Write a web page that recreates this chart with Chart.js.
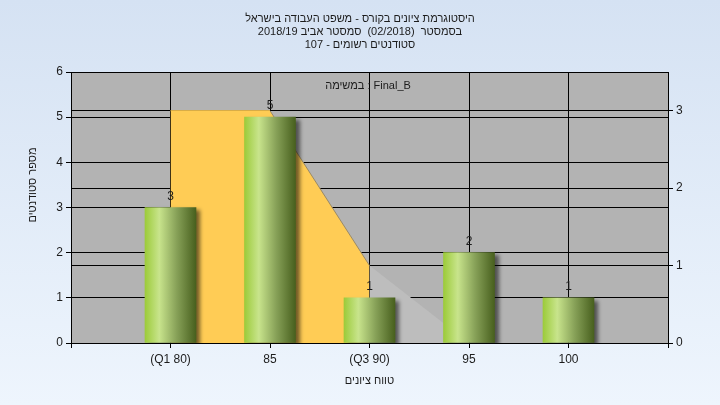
<!DOCTYPE html>
<html>
<head>
<meta charset="utf-8">
<script src="https://cdn.jsdelivr.net/npm/chart.js@4/dist/chart.umd.min.js"></script>
<style>
  html, body { margin: 0; padding: 0; }
  body { width: 720px; height: 405px; background: linear-gradient(#d5e2f3, #eef5fd); }
  canvas { display: block; }
</style>
</head>
<body>
<canvas id="histChart" width="720" height="405"></canvas>
<script>
// data
const grades = [80, 85, 90, 95, 100];
const gradeLabels = ['(Q1 80)', '85', '(Q3 90)', '95', '100'];
const students = [3, 5, 1, 2, 1];
const iqrGrades = [80, 85, 90];
const iqrValues = [3, 3, 1];
const tailGrades = [90, 95];
const tailValues = [1, 0];

const titleLines = [
  'היסטוגרמת ציונים בקורס - משפט העבודה בישראל',
  'בסמסטר  (02/2018)  סמסטר אביב 2018/19',
  'סטודנטים רשומים - 107'
];
const taskText = 'במשימה : Final_B';
const xTitle = 'טווח ציונים';
const yTitle = 'מספר סטודנטים';

const FONT = '11px "Liberation Sans", Arial, sans-serif';
const ctx = document.getElementById('histChart').getContext('2d');

function shade(c, x, w) {
  const g = c.createLinearGradient(x - w / 2, 0, x + w / 2, 0);
  g.addColorStop(0, '#9ccb3a');
  g.addColorStop(0.28, '#c8e48c');
  g.addColorStop(0.62, '#87a158');
  g.addColorStop(1, '#48601e');
  return g;
}

// fills grey plot area, draws titles, labels above the bars
const decorPlugin = {
  id: 'decor',
  beforeDraw(chart) {
    const a = chart.chartArea;
    const c = chart.ctx;
    c.save();
    c.fillStyle = '#b3b3b3';
    c.fillRect(a.left, a.top, a.right - a.left, a.bottom - a.top);
    c.restore();
  },
  beforeDatasetDraw(chart, args) {
    if (chart.data.datasets[args.index].type === 'bar') {
      const c = chart.ctx;
      // each bar gets its own gradient (options are per element, see scriptable colour)
      args.meta.data.forEach((bar) => {
        bar.options.backgroundColor = shade(c, bar.x, bar.width);
      });
      c.save();
      c.shadowColor = 'rgba(0,0,0,0.55)';
      c.shadowOffsetX = 4;
      c.shadowOffsetY = 3;
      c.shadowBlur = 4;
    }
  },
  afterDatasetDraw(chart, args) {
    if (chart.data.datasets[args.index].type === 'bar') {
      chart.ctx.restore();
    }
  },
  afterDraw(chart) {
    const c = chart.ctx;
    const a = chart.chartArea;
    c.save();
    c.font = FONT;
    c.fillStyle = '#1c1c1c';
    c.textAlign = 'center';
    c.textBaseline = 'middle';
    c.direction = 'rtl';
    titleLines.forEach((t, i) => c.fillText(t, 360, 19 + i * 13));

    // value labels over bars
    c.direction = 'ltr';
    c.font = '12px "Liberation Sans", Arial, sans-serif';
    const meta = chart.getDatasetMeta(0);
    meta.data.forEach((bar, i) => {
      c.fillText(String(students[i]), bar.x, bar.y - 11);
    });

    c.font = FONT;
    c.fillText(taskText, 368, 86);

    c.direction = 'rtl';
    c.fillText(xTitle, (a.left + a.right) / 2, 381);
    c.translate(33, 185);
    c.rotate(-Math.PI / 2);
    c.fillText(yTitle, 0, 0);
    c.restore();
  }
};

new Chart(ctx, {
  type: 'bar',
  data: {
    datasets: [
      {
        type: 'bar',
        data: grades.map((g, i) => ({ x: g, y: students[i] })),
        // scriptable so every bar keeps its own options object
        backgroundColor: (c) => (c.dataIndex >= 0 ? '#9ccb3a' : '#9ccb3b'),
        borderWidth: 0,
        barThickness: 51,
        yAxisID: 'y',
        order: 0
      },
      {
        type: 'line',
        data: iqrGrades.map((g, i) => ({ x: g, y: iqrValues[i] })),
        backgroundColor: '#ffcc55',
        borderWidth: 1,
        borderColor: '#ffcc55',
        segment: {
          borderColor: (s) => (s.p0.parsed.y !== s.p1.parsed.y ? '#9a8a66' : '#ffcc55')
        },
        fill: 'origin',
        pointRadius: 0,
        tension: 0,
        yAxisID: 'y2',
        order: 2
      },
      {
        type: 'line',
        data: tailGrades.map((g, i) => ({ x: g, y: tailValues[i] })),
        backgroundColor: '#bdbdbd',
        borderWidth: 0,
        fill: 'origin',
        pointRadius: 0,
        tension: 0,
        yAxisID: 'y2',
        order: 1
      }
    ]
  },
  options: {
    responsive: false,
    animation: false,
    layout: { padding: { top: 72, left: 0, right: 0, bottom: 0 } },
    plugins: {
      legend: { display: false },
      tooltip: { enabled: false },
      title: { display: false }
    },
    scales: {
      x: {
        type: 'linear',
        position: 'bottom',
        min: 75,
        max: 105,
        offset: false,
        grid: { color: '#000', lineWidth: 1, tickLength: 5, offset: false },
        border: { color: '#000' },
        ticks: {
          stepSize: 5,
          color: '#1c1c1c',
          font: { family: '"Liberation Sans", Arial, sans-serif', size: 12 },
          maxRotation: 0,
          autoSkip: false,
          padding: 4,
          callback: (v) => {
            const i = grades.indexOf(v);
            return i >= 0 ? gradeLabels[i] : '';
          }
        },
        afterFit: (s) => { s.height = 62; }
      },
      y: {
        position: 'left',
        min: 0,
        max: 6,
        grid: { color: '#000', lineWidth: 1, tickLength: 5 },
        border: { color: '#000' },
        ticks: {
          stepSize: 1,
          color: '#1c1c1c',
          font: { family: '"Liberation Sans", Arial, sans-serif', size: 12 },
          padding: 3
        },
        afterFit: (s) => { s.width = 71; }
      },
      y2: {
        position: 'right',
        min: 0,
        max: 3.5,
        grid: { color: '#000', lineWidth: 1, tickLength: 5, drawOnChartArea: true },
        border: { color: '#000' },
        ticks: {
          stepSize: 1,
          includeBounds: false,
          color: '#1c1c1c',
          font: { family: '"Liberation Sans", Arial, sans-serif', size: 12 },
          padding: 3
        },
        afterFit: (s) => { s.width = 52; }
      }
    }
  },
  plugins: [decorPlugin]
});
</script>
</body>
</html>
